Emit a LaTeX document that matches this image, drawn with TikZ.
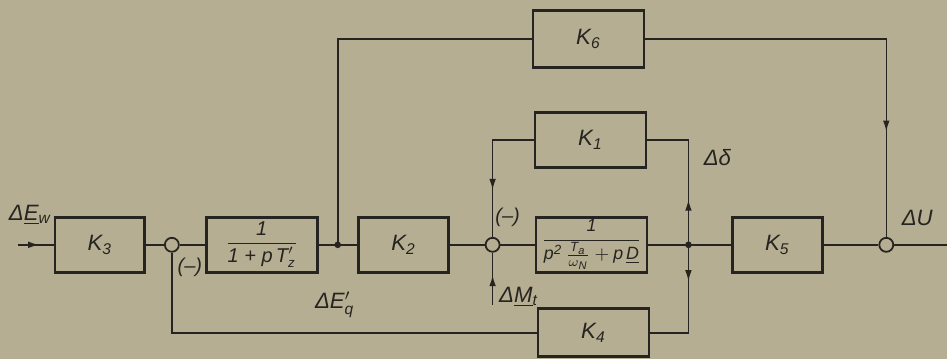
\documentclass[tikz,border=0pt]{standalone}
\usepackage{amsmath}
\usepackage{fontspec}
\setmainfont{Liberation Sans}
\usepackage{tikz}
\usetikzlibrary{arrows.meta,positioning,calc,decorations.markings}
\definecolor{paper}{RGB}{182,174,146}
\definecolor{ink}{RGB}{38,36,32}
\tikzset{
  blk/.style={draw=ink,line width=1.3pt,minimum width=40.5pt,minimum height=24.8pt,inner sep=1pt},
  wblk/.style={blk,minimum width=50pt},
  sumc/.style={circle,draw=ink,line width=0.8pt,fill=paper,minimum size=6.3pt,inner sep=0pt},
  dotc/.style={circle,fill=ink,minimum size=3pt,inner sep=0pt},
  lbl/.style={font=\itshape,text=ink},
  midarr/.style={postaction={decorate},decoration={markings,
    mark=at position #1 with {\arrow{Latex[length=5pt,width=3pt]}}}}
}
\begin{document}
\begin{tikzpicture}[x=0.45pt,y=-0.45pt,line width=0.7pt,color=ink,font=\itshape]
  \fill[paper] (0,0) rectangle (948,359);
  % forward path
  \coordinate (in) at (18,245);
  \node[blk] (k3) at (100,245) {K\textsubscript{3}};
  \node[sumc] (s1) at (172,245) {};
  \node[wblk,font=\itshape\small] (g1) at (262,245)
    {$\dfrac{\text{1}}{\text{1 + p\,T}^{\prime}_{\text{z}}}$};
  \node[dotc] (b1) at (338,245) {};
  \node[blk] (k2) at (404,245) {K\textsubscript{2}};
  \node[sumc] (s2) at (493,245) {};
  \node[wblk,font=\itshape\footnotesize] (g2) at (592,245)
    {$\dfrac{\text{1}}{\text{p}^{\text{2}}\,\frac{\text{T}_{\text{a}}}{\omega_{\text{N}}}+\text{p\,}\underline{\text{D}}}$};
  \node[dotc] (j) at (689,245) {};
  \node[blk] (k5) at (778,245) {K\textsubscript{5}};
  \node[sumc] (s3) at (887,245) {};
  \coordinate (out) at (948,245);
  % feedback blocks
  \node[wblk,minimum height=26pt] (k6) at (589,39) {K\textsubscript{6}};
  \node[wblk] (k1) at (591,140) {K\textsubscript{1}};
  \node[wblk,minimum height=21.6pt] (k4) at (594,333) {K\textsubscript{4}};
  \coordinate (mt) at (493,305);

  \draw[midarr=0.6] (in) -- (k3);
  \draw (k3) -- (s1) -- (g1) -- (k2) -- (s2) -- (g2) -- (k5) -- (s3) -- (out);
  \draw (b1.center) |- (k6);
  \draw[midarr=0.76] (k6) -| (s3);
  \draw[midarr=0.31] (j.center) |- (k1);
  \draw[midarr=0.66] (k1) -| (s2);
  \draw[midarr=0.29] (j.center) |- (k4);
  \draw (k4) -| (s1);
  \draw[midarr=0.57] (mt) -- (s2);

  % signal names
  \node[lbl] (ew) at (30,215) {Δ\underline{E}\textsubscript{w}};
  \node[lbl] (eq) at (335,305) {ΔE$'_{\text{q}}$};
  \node[lbl] (mtl) at (519,297) {Δ\underline{M}\textsubscript{t}};
  \node[lbl] (dd) at (718,158) {Δδ};
  \node[lbl] (du) at (918,218) {ΔU};
  \node[lbl,font=\itshape\small] (m1) at (190,268) {(--)};
  \node[lbl,font=\itshape\small] (m2) at (508,217) {(--)};
\end{tikzpicture}
\end{document}
